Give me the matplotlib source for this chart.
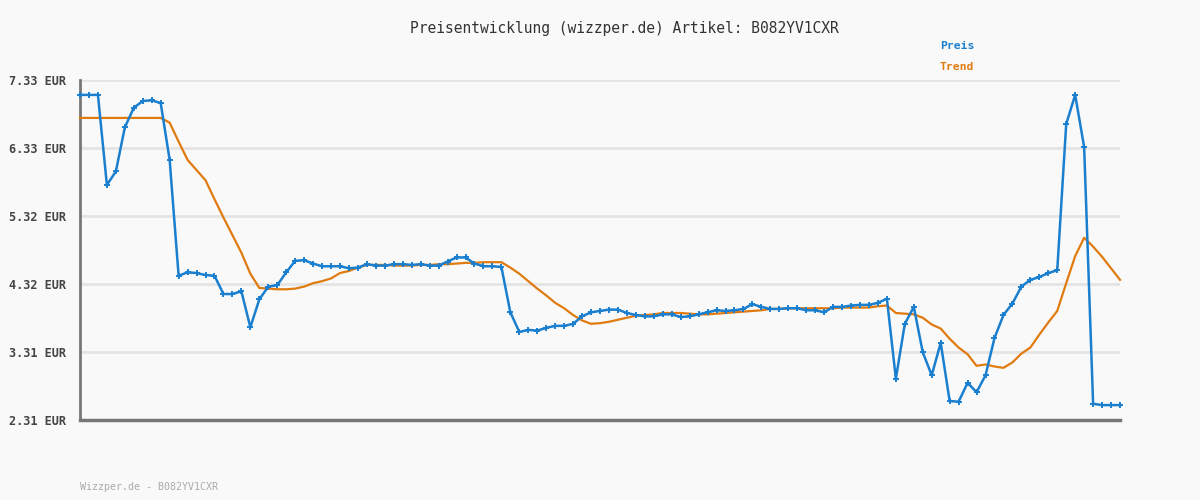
import matplotlib
matplotlib.use("Agg")
import matplotlib.pyplot as plt
import numpy as np

title = "Preisentwicklung (wizzper.de) Artikel: B082YV1CXR"
footer = "Wizzper.de - B082YV1CXR"
series_names = ["Preis", "Trend"]
tick_labels = ["2.31 EUR", "3.31 EUR", "4.32 EUR", "5.32 EUR", "6.33 EUR", "7.33 EUR"]
y_min, y_max = 2.31, 7.33

preis = [
    7.11, 7.11, 7.11, 5.78, 5.98, 6.63, 6.92, 7.02, 7.03, 6.99,
    6.15, 4.44, 4.49, 4.48, 4.45, 4.44, 4.17, 4.17, 4.21, 3.68,
    4.09, 4.28, 4.30, 4.49, 4.66, 4.67, 4.62, 4.58, 4.58, 4.58,
    4.55, 4.56, 4.61, 4.59, 4.59, 4.61, 4.61, 4.60, 4.61, 4.59,
    4.59, 4.65, 4.71, 4.71, 4.62, 4.58, 4.58, 4.57, 3.90, 3.61,
    3.64, 3.63, 3.67, 3.70, 3.70, 3.73, 3.84, 3.90, 3.92, 3.94,
    3.94, 3.89, 3.86, 3.84, 3.84, 3.87, 3.87, 3.83, 3.84, 3.87,
    3.90, 3.93, 3.92, 3.93, 3.95, 4.02, 3.98, 3.95, 3.95, 3.96,
    3.96, 3.93, 3.93, 3.90, 3.98, 3.98, 4.00, 4.01, 4.01, 4.04,
    4.10, 2.92, 3.73, 3.98, 3.31, 2.97, 3.45, 2.59, 2.58, 2.86,
    2.72, 2.97, 3.52, 3.86, 4.03, 4.28, 4.38, 4.42, 4.48, 4.52,
    6.68, 7.11, 6.34, 2.55, 2.53, 2.53, 2.53,
]

trend = [
    6.77, 6.77, 6.77, 6.77, 6.77, 6.77, 6.77, 6.77, 6.77, 6.77,
    6.70, 6.42, 6.15, 6.00, 5.85, 5.57, 5.30, 5.04, 4.78, 4.47,
    4.26, 4.25, 4.24, 4.24, 4.25, 4.28, 4.33, 4.36, 4.40, 4.48,
    4.51, 4.56, 4.60, 4.60, 4.60, 4.59, 4.59, 4.59, 4.60, 4.60,
    4.61, 4.61, 4.62, 4.63, 4.63, 4.64, 4.64, 4.64, 4.56, 4.47,
    4.36, 4.25, 4.15, 4.04, 3.96, 3.86, 3.78, 3.73, 3.74, 3.76,
    3.79, 3.82, 3.85, 3.86, 3.87, 3.89, 3.89, 3.89, 3.88, 3.87,
    3.87, 3.88, 3.89, 3.90, 3.91, 3.92, 3.93, 3.95, 3.95, 3.96,
    3.96, 3.96, 3.96, 3.96, 3.96, 3.97, 3.97, 3.97, 3.97, 3.99,
    4.00, 3.89, 3.88, 3.87, 3.82, 3.72, 3.66, 3.51, 3.38, 3.28,
    3.11, 3.13, 3.10, 3.08, 3.16, 3.29, 3.38, 3.57, 3.75, 3.92,
    4.33, 4.73, 5.00, 4.87, 4.72, 4.55, 4.38,
]

bg = "#f9f9f9"
blue = "#1a7fcf"
orange = "#e07b10"
mono = "DejaVu Sans Mono"

fig = plt.figure(figsize=(12, 5), dpi=100, facecolor=bg)
ax = fig.add_axes([80 / 1200, 1 - 420 / 500, 1040 / 1200, 340 / 500], facecolor=bg)

x = np.arange(len(preis))
ax.plot(x, trend, color=orange, lw=1.6, zorder=3, clip_on=False)
ax.plot(x, preis, color=blue, lw=1.8, marker="+", ms=4.5, mew=1.4, zorder=4, clip_on=False)

ax.set_xlim(0, len(preis) - 1)
ax.set_ylim(y_min, y_max)
ticks = np.linspace(y_min, y_max, len(tick_labels))
ax.set_yticks(ticks)
ax.set_yticklabels(tick_labels, fontfamily=mono, fontsize=8.6, fontweight="bold", color="#444444")
ax.set_xticks([])
ax.tick_params(axis="y", length=0, pad=10)
ax.yaxis.grid(True, color="#e4e4e4", lw=2, zorder=0)
ax.set_axisbelow(True)
for s in ["top", "right"]:
    ax.spines[s].set_visible(False)
ax.spines["left"].set_color("#777777")
ax.spines["left"].set_linewidth(2)
ax.spines["bottom"].set_color("#777777")
ax.spines["bottom"].set_linewidth(2.5)

fig.text(0.52, 1 - 28 / 500, title, ha="center", va="center", fontfamily=mono,
         fontsize=10.5, color="#333333")
fig.text(940 / 1200, 1 - 46 / 500, series_names[0], ha="left", va="center", fontfamily=mono,
         fontsize=8.2, fontweight="bold", color=blue)
fig.text(940 / 1200, 1 - 67 / 500, series_names[1], ha="left", va="center", fontfamily=mono,
         fontsize=8.2, fontweight="bold", color=orange)
fig.text(80 / 1200, 1 - 487 / 500, footer, ha="left", va="center", fontfamily=mono,
         fontsize=7.2, color="#aaaaaa")

fig.savefig("out.png", dpi=100, facecolor=bg)
